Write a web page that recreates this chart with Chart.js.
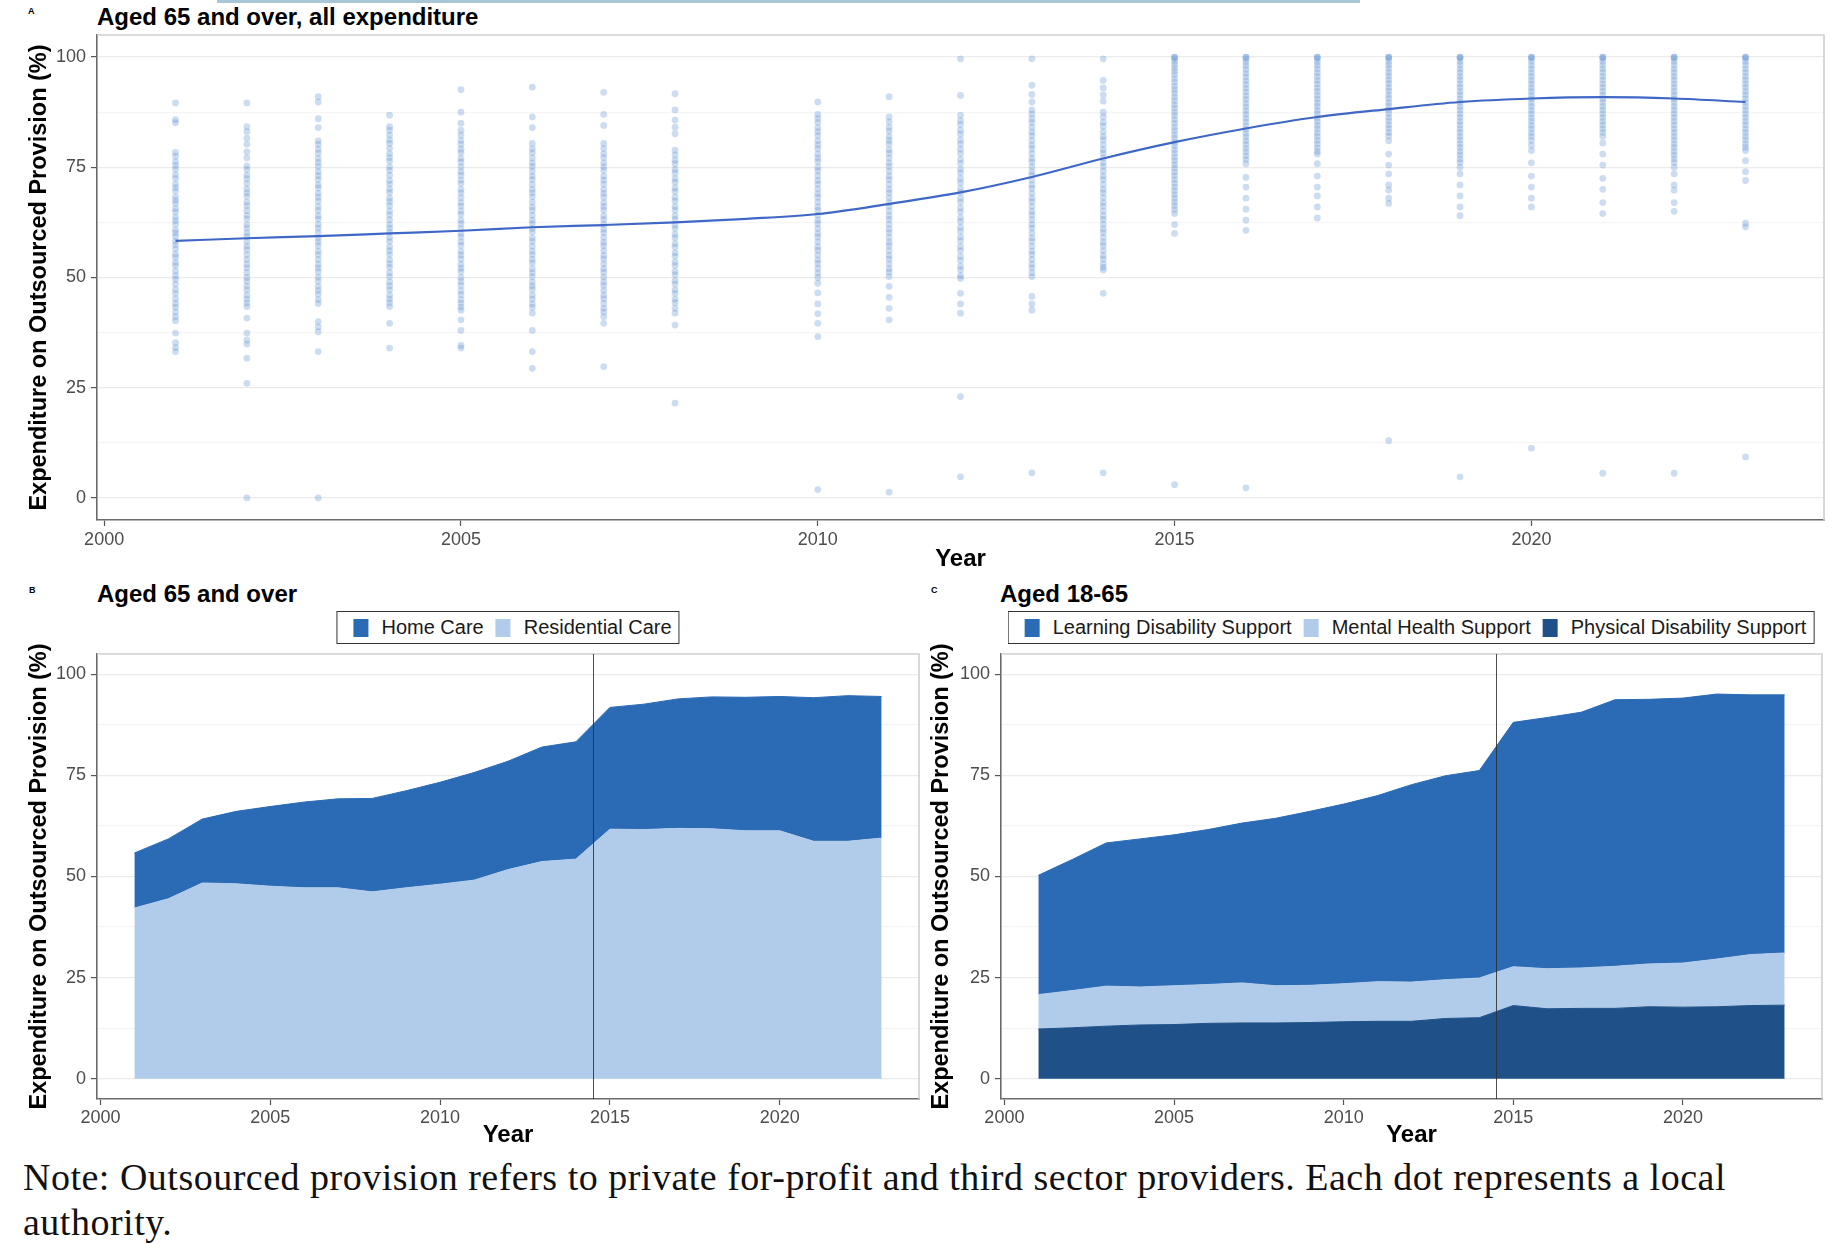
<!DOCTYPE html>
<html><head><meta charset="utf-8">
<script src="https://cdn.jsdelivr.net/npm/chart.js@4.4.1/dist/chart.umd.min.js"></script>
<style>
html,body{margin:0;padding:0;background:#fff;}
body{width:1838px;height:1244px;position:relative;overflow:hidden;font-family:"Liberation Sans",Arial,sans-serif;}
.abs{position:absolute;}
.tag{position:absolute;font-size:9px;font-weight:bold;color:#000;line-height:1;}
.ptitle{position:absolute;font-size:24px;font-weight:bold;color:#000;line-height:1;white-space:nowrap;}
.legend{position:absolute;z-index:2;top:611px;height:33px;box-sizing:border-box;border:1.5px solid #333;display:flex;align-items:center;padding:0 7px 0 16px;transform:translateX(-50%);white-space:nowrap;background:#fff;}
.item{display:flex;align-items:center;margin-right:12px;font-size:20px;color:#1a1a1a;}
.item:last-child{margin-right:0;}
.sw{width:15px;height:18px;margin-right:13px;}
.note{position:absolute;left:23px;top:1155px;font-family:"Liberation Serif","Times New Roman",serif;font-size:38px;letter-spacing:0.5px;line-height:45px;color:#111;white-space:nowrap;}
canvas{position:absolute;z-index:1;}
</style></head>
<body>
<div class="abs" style="left:217px;top:0;width:1143px;height:3px;background:#a8c6d5;"></div>

<div class="tag" style="left:28px;top:7px;">A</div>
<div class="ptitle" style="left:97px;top:5px;">Aged 65 and over, all expenditure</div>
<canvas id="chartA" width="1838" height="552" style="left:0;top:28px;"></canvas>

<div class="tag" style="left:29px;top:586px;">B</div>
<div class="ptitle" style="left:97px;top:582px;">Aged 65 and over</div>
<div class="legend" style="left:508px;">
  <div class="item"><div class="sw" style="background:#2b6bb5"></div>Home Care</div>
  <div class="item"><div class="sw" style="background:#b1cbea"></div>Residential Care</div>
</div>
<canvas id="chartB" width="930" height="530" style="left:0;top:620px;"></canvas>

<div class="tag" style="left:931px;top:586px;">C</div>
<div class="ptitle" style="left:1000px;top:582px;">Aged 18-65</div>
<div class="legend" style="left:1411px;">
  <div class="item"><div class="sw" style="background:#2b6bb5"></div>Learning Disability Support</div>
  <div class="item"><div class="sw" style="background:#b1cbea"></div>Mental Health Support</div>
  <div class="item"><div class="sw" style="background:#1f5188"></div>Physical Disability Support</div>
</div>
<canvas id="chartC" width="913" height="530" style="left:925px;top:620px;"></canvas>

<div class="note">Note: Outsourced provision refers to private for-profit and third sector providers. Each dot represents a local<br>authority.</div>

<script>
const FONT = '"Liberation Sans", Arial, sans-serif';

// ---- axes ----
const xTickYears = [2000, 2005, 2010, 2015, 2020];
const yMajorTicks = [0, 25, 50, 75, 100];
const yMinorTicks = [12.5, 37.5, 62.5, 87.5];
const xRange = [1999.9, 2024.1];
const yRange = [-5, 105];
const policyBreakYear = 2014.5;

// ---- panel A: smoothed trend ----
const trendYears = [2001, 2002, 2003, 2004, 2005, 2006, 2007, 2008, 2009, 2010, 2011, 2012, 2013, 2014, 2015, 2016, 2017, 2018, 2019, 2020, 2021, 2022, 2023];
const trendValues = [58.3, 58.9, 59.4, 60.0, 60.6, 61.4, 61.9, 62.5, 63.3, 64.4, 66.7, 69.3, 72.8, 77.0, 80.7, 83.8, 86.4, 88.2, 89.8, 90.6, 90.9, 90.6, 89.8];

// ---- panel A: local authority dots ----
const laYears = [2001, 2002, 2003, 2004, 2005, 2006, 2007, 2008, 2010, 2011, 2012, 2013, 2014, 2015, 2016, 2017, 2018, 2019, 2020, 2021, 2022, 2023];
const la2001 = [89.6, 85.8, 85.1, 78.4, 77.5, 76.3, 75.4, 74.6, 73.3, 72.5, 71.2, 70.4, 69.6, 68.3, 67.5, 66.8, 65.6, 64.9, 63.7, 62.9, 62.1, 60.8, 60.1, 59.3, 58.2, 57.4, 56.5, 55.3, 54.6, 53.4, 52.7, 51.5, 50.4, 49.6, 48.5, 47.3, 46.4, 45.2, 44.1, 43.3, 42.2, 41.1, 40.2, 37.4, 35.2, 34.1, 33.2];
const la2002 = [89.6, 84.2, 83.1, 81.6, 80.2, 78.5, 77.1, 75.3, 74.5, 73.2, 72.4, 71.3, 70.1, 69.2, 68.4, 67.1, 66.3, 65.2, 64.1, 63.3, 62.0, 61.2, 60.1, 59.3, 58.2, 57.1, 56.3, 55.2, 54.1, 53.0, 52.2, 51.1, 50.0, 49.2, 48.1, 47.2, 46.0, 45.1, 44.2, 43.4, 40.8, 37.4, 35.8, 34.9, 31.7, 26.0, 0.0];
const la2003 = [91.0, 89.8, 86.0, 84.0, 81.0, 80.2, 79.1, 78.2, 77.0, 76.1, 75.2, 74.0, 73.1, 72.2, 71.0, 70.3, 69.1, 68.2, 67.3, 66.1, 65.2, 64.0, 63.3, 62.1, 61.2, 60.2, 59.0, 58.1, 57.2, 56.0, 55.2, 54.1, 53.0, 52.2, 51.3, 50.1, 49.2, 48.0, 47.1, 46.2, 45.0, 44.1, 40.0, 38.8, 37.7, 33.2, 0.0];
const la2004 = [86.8, 84.2, 83.4, 82.3, 81.2, 80.4, 79.3, 78.1, 77.2, 76.4, 75.1, 74.3, 73.2, 72.0, 71.2, 70.1, 69.3, 68.0, 67.2, 66.3, 65.1, 64.2, 63.1, 62.0, 61.2, 60.3, 59.1, 58.2, 57.0, 56.1, 55.2, 54.0, 53.1, 52.3, 51.1, 50.2, 49.0, 48.1, 47.2, 46.0, 45.1, 44.3, 43.4, 39.6, 34.0];
const la2005 = [92.6, 87.5, 85.0, 83.4, 82.3, 81.1, 80.2, 79.1, 78.3, 77.0, 76.2, 75.1, 74.0, 73.2, 72.1, 71.3, 70.0, 69.2, 68.1, 67.0, 66.2, 65.1, 64.3, 63.0, 62.2, 61.1, 60.0, 59.2, 58.1, 57.3, 56.0, 55.1, 54.2, 53.0, 52.1, 51.3, 50.0, 49.1, 48.2, 47.0, 46.1, 45.0, 44.2, 43.3, 42.6, 40.4, 38.0, 34.6, 34.0];
const la2006 = [93.2, 86.4, 84.0, 80.4, 79.2, 78.3, 77.1, 76.0, 75.2, 74.1, 73.0, 72.2, 71.1, 70.0, 69.2, 68.3, 67.1, 66.0, 65.2, 64.1, 63.0, 62.2, 61.1, 60.3, 59.0, 58.2, 57.1, 56.0, 55.2, 54.1, 53.3, 52.0, 51.1, 50.2, 49.0, 48.1, 47.3, 46.0, 45.1, 44.0, 43.2, 41.9, 38.0, 33.2, 29.4];
const la2007 = [92.0, 87.0, 84.5, 80.4, 79.3, 78.1, 77.2, 76.0, 75.1, 74.3, 73.0, 72.1, 71.2, 70.0, 69.1, 68.2, 67.0, 66.1, 65.3, 64.0, 63.2, 62.1, 61.0, 60.2, 59.1, 58.0, 57.2, 56.1, 55.0, 54.2, 53.1, 52.0, 51.2, 50.1, 49.0, 48.2, 47.1, 46.0, 45.2, 44.1, 43.0, 42.2, 41.1, 39.6, 29.8];
const la2008 = [91.7, 88.0, 85.7, 84.1, 82.6, 78.9, 77.8, 76.6, 75.8, 74.5, 73.7, 72.4, 71.6, 70.3, 69.5, 68.2, 67.4, 66.1, 65.3, 64.0, 63.2, 61.9, 61.1, 59.8, 59.0, 57.7, 56.9, 55.6, 54.8, 53.5, 52.7, 51.4, 50.6, 49.3, 48.5, 47.2, 46.4, 45.1, 44.3, 43.0, 41.9, 39.2, 21.5];
const la2010 = [89.8, 87.0, 86.1, 85.2, 84.0, 83.1, 82.2, 81.0, 80.1, 79.2, 78.0, 77.1, 76.3, 75.0, 74.2, 73.1, 72.0, 71.2, 70.1, 69.0, 68.2, 67.1, 66.0, 65.2, 64.1, 63.0, 62.2, 61.1, 60.0, 59.2, 58.1, 57.0, 56.2, 55.1, 54.0, 53.2, 52.1, 51.0, 50.0, 48.7, 46.5, 44.0, 41.8, 39.6, 36.6, 1.9];
const la2011 = [91.0, 86.4, 85.3, 84.1, 83.2, 82.0, 81.1, 80.3, 79.0, 78.2, 77.1, 76.0, 75.2, 74.1, 73.0, 72.2, 71.1, 70.0, 69.2, 68.1, 67.0, 66.2, 65.1, 64.0, 63.2, 62.1, 61.0, 60.2, 59.1, 58.0, 57.2, 56.1, 55.0, 54.2, 53.1, 52.0, 51.2, 50.2, 48.0, 45.5, 43.0, 40.4, 1.3];
const la2012 = [99.6, 91.3, 86.8, 85.6, 84.7, 83.4, 82.5, 81.2, 80.3, 79.1, 78.1, 76.8, 75.9, 74.6, 73.7, 72.4, 71.5, 70.2, 69.3, 68.0, 67.1, 65.8, 64.9, 63.6, 62.7, 61.4, 60.5, 59.2, 58.3, 57.0, 56.1, 54.8, 53.9, 52.6, 51.7, 50.4, 49.8, 46.4, 44.0, 41.9, 23.0, 4.8];
const la2013 = [99.6, 93.6, 91.5, 89.8, 88.0, 87.1, 86.0, 85.2, 84.1, 83.0, 82.2, 81.1, 80.0, 79.2, 78.1, 77.0, 76.2, 75.1, 74.0, 73.2, 72.1, 71.0, 70.2, 69.1, 68.0, 67.2, 66.1, 65.0, 64.2, 63.1, 62.0, 61.2, 60.1, 59.0, 58.2, 57.1, 56.0, 55.2, 54.1, 53.0, 52.2, 51.1, 50.2, 45.7, 44.0, 42.6, 5.7];
const la2014 = [99.6, 94.7, 93.0, 91.4, 90.0, 87.5, 86.4, 85.2, 84.3, 83.1, 82.0, 81.2, 80.1, 79.0, 78.2, 77.1, 76.0, 75.2, 74.1, 73.0, 72.2, 71.1, 70.0, 69.2, 68.1, 67.0, 66.2, 65.1, 64.0, 63.2, 62.1, 61.0, 60.2, 59.1, 58.0, 57.2, 56.1, 55.0, 54.2, 53.1, 52.3, 51.7, 46.4, 5.7];
const la2015 = [100, 100, 99.6, 99.0, 98.3, 97.5, 96.8, 96.0, 95.1, 94.3, 93.4, 92.6, 91.8, 90.9, 90.1, 89.2, 88.4, 87.5, 86.7, 85.8, 85.0, 84.1, 83.3, 82.4, 81.6, 80.7, 79.9, 79.0, 78.2, 77.3, 76.5, 75.6, 74.8, 73.9, 73.1, 72.2, 71.4, 70.5, 69.7, 68.8, 68.0, 67.1, 66.3, 65.4, 64.5, 62.0, 60.0, 3.0];
const la2016 = [100, 100, 99.5, 98.8, 98.0, 97.2, 96.3, 95.5, 94.6, 93.8, 92.9, 92.1, 91.2, 90.4, 89.5, 88.7, 87.8, 87.0, 86.1, 85.3, 84.4, 83.6, 82.7, 81.9, 81.0, 80.2, 79.3, 78.5, 77.6, 76.8, 75.8, 72.7, 70.5, 68.0, 65.5, 63.0, 60.7, 2.3];
const la2017 = [100, 100, 99.6, 98.9, 98.1, 97.3, 96.4, 95.6, 94.7, 93.9, 93.0, 92.2, 91.3, 90.5, 89.6, 88.8, 87.9, 87.1, 86.2, 85.4, 84.5, 83.7, 82.8, 82.0, 81.1, 80.3, 79.4, 78.6, 78.0, 75.8, 73.0, 70.5, 68.5, 66.0, 63.5];
const la2018 = [100, 100, 99.7, 99.0, 98.2, 97.4, 96.5, 95.7, 94.8, 94.0, 93.1, 92.3, 91.4, 90.6, 89.7, 88.9, 88.0, 87.2, 86.3, 85.5, 84.6, 83.8, 82.9, 82.1, 81.0, 78.0, 75.5, 73.5, 71.0, 69.8, 68.0, 66.8, 13.0];
const la2019 = [100, 100, 99.7, 99.0, 98.2, 97.3, 96.5, 95.6, 94.8, 93.9, 93.1, 92.2, 91.4, 90.5, 89.7, 88.8, 88.0, 87.1, 86.3, 85.4, 84.6, 83.7, 82.9, 82.0, 81.2, 80.3, 79.5, 78.6, 77.8, 76.9, 76.1, 75.0, 73.5, 71.0, 68.5, 66.0, 64.0, 4.8];
const la2020 = [100, 100, 99.7, 99.0, 98.1, 97.3, 96.4, 95.6, 94.7, 93.9, 93.0, 92.2, 91.3, 90.5, 89.6, 88.8, 87.9, 87.1, 86.2, 85.4, 84.5, 83.7, 82.8, 82.0, 81.1, 80.0, 78.8, 76.0, 73.0, 70.5, 68.0, 66.0, 11.3];
const la2021 = [100, 100, 99.7, 99.0, 98.2, 97.3, 96.5, 95.6, 94.8, 93.9, 93.1, 92.2, 91.4, 90.5, 89.7, 88.8, 88.0, 87.1, 86.3, 85.4, 84.6, 83.7, 82.9, 82.0, 80.5, 78.0, 75.5, 72.5, 70.0, 67.0, 64.5, 5.6];
const la2022 = [100, 100, 99.7, 99.0, 98.2, 97.3, 96.5, 95.6, 94.8, 93.9, 93.1, 92.2, 91.4, 90.5, 89.7, 88.8, 88.0, 87.1, 86.3, 85.4, 84.6, 83.7, 82.9, 82.0, 81.2, 80.3, 79.5, 78.6, 77.8, 76.9, 76.1, 75.0, 73.5, 71.0, 69.8, 67.0, 65.0, 5.6];
const la2023 = [100, 100, 99.7, 99.0, 98.2, 97.3, 96.5, 95.6, 94.8, 93.9, 93.1, 92.2, 91.4, 90.5, 89.7, 88.8, 88.0, 87.1, 86.3, 85.4, 84.6, 83.7, 82.9, 82.0, 81.2, 80.3, 79.5, 78.8, 76.5, 74.0, 72.0, 62.3, 61.5, 9.3];
const laValues = [la2001, la2002, la2003, la2004, la2005, la2006, la2007, la2008, la2010, la2011, la2012, la2013, la2014, la2015, la2016, la2017, la2018, la2019, la2020, la2021, la2022, la2023];

// ---- panels B & C: stacked shares ----
const areaYears = [2001, 2002, 2003, 2004, 2005, 2006, 2007, 2008, 2009, 2010, 2011, 2012, 2013, 2014, 2015, 2016, 2017, 2018, 2019, 2020, 2021, 2022, 2023];
const residentialCare = [42.2, 44.5, 48.4, 48.2, 47.6, 47.2, 47.2, 46.2, 47.2, 48.1, 49.1, 51.7, 53.7, 54.3, 61.7, 61.6, 61.9, 61.8, 61.3, 61.3, 58.7, 58.7, 59.5];
const homeCare = [13.6, 14.8, 15.8, 17.9, 19.7, 21.2, 22.0, 23.1, 24.0, 25.2, 26.6, 26.8, 28.3, 29.0, 30.1, 31.0, 32.0, 32.6, 33.0, 33.2, 35.5, 36.0, 35.0];
const physicalDisability = [12.3, 12.6, 13.0, 13.3, 13.4, 13.7, 13.8, 13.8, 13.9, 14.1, 14.2, 14.2, 14.9, 15.1, 18.1, 17.3, 17.4, 17.4, 17.8, 17.7, 17.8, 18.1, 18.2];
const mentalHealth = [8.5, 9.2, 9.9, 9.4, 9.6, 9.6, 9.9, 9.2, 9.2, 9.4, 9.8, 9.7, 9.6, 9.8, 9.6, 9.9, 10.0, 10.4, 10.6, 10.9, 11.8, 12.6, 12.9];
const learningDisability = [29.5, 32.4, 35.4, 36.6, 37.3, 38.3, 39.5, 41.4, 43.0, 44.4, 46.0, 48.8, 50.4, 51.3, 60.4, 62.1, 63.2, 65.9, 65.4, 65.5, 65.5, 64.2, 63.8];

const C_DARK = '#2b6bb5', C_LIGHT = '#b1cbea', C_NAVY = '#1f5188', C_TREND = '#3f67c6';

const pts = (xs, ys) => xs.map((x, i) => ({x: x, y: ys[i]}));
const allYTicks = [...yMajorTicks, ...yMinorTicks].sort((a, b) => a - b);
const isMajor = c => c.tick && yMajorTicks.includes(c.tick.value);

function makeScales(o) {
  return {
    x: {
      type: 'linear', min: xRange[0], max: xRange[1],
      afterBuildTicks: s => { s.ticks = xTickYears.map(v => ({value: v})); },
      afterFit: s => { s.height = o.xHeight; s.paddingLeft = 0; s.paddingRight = 0; s.paddingTop = 0; s.paddingBottom = 0; },
      ticks: {color: '#4d4d4d', font: {family: FONT, size: 18}, padding: o.xPad, maxRotation: 0, autoSkip: false, callback: v => String(v)},
      grid: {drawOnChartArea: false, drawTicks: true, tickLength: 6, tickColor: '#555', tickWidth: 1.2},
      border: {display: true, color: '#6b6b6b', width: 1.6},
      title: {display: true, text: 'Year', color: '#000', font: {family: FONT, size: 24, weight: 'bold'}, padding: {top: 0, bottom: o.xTitlePad}}
    },
    y: {
      type: 'linear', min: yRange[0], max: yRange[1], stacked: o.stacked,
      afterBuildTicks: s => { s.ticks = allYTicks.map(v => ({value: v})); },
      afterFit: s => { s.width = o.yWidth; s.paddingTop = 0; s.paddingBottom = 0; s.paddingLeft = 0; s.paddingRight = 0; },
      ticks: {color: '#4d4d4d', font: {family: FONT, size: 18}, padding: 5, autoSkip: false, callback: v => yMajorTicks.includes(v) ? String(v) : ''},
      grid: {drawOnChartArea: true, drawTicks: true, tickLength: 6,
             color: c => isMajor(c) ? '#ebebeb' : '#f5f5f5', lineWidth: 1.2,
             tickColor: c => isMajor(c) ? '#555' : 'rgba(0,0,0,0)', tickWidth: 1.2},
      border: {display: true, color: '#6b6b6b', width: 1.6},
      title: {display: true, text: 'Expenditure on Outsourced Provision (%)', color: '#000', font: {family: FONT, size: 23.5, weight: 'bold'}, padding: {top: o.yTitlePad, bottom: 0}}
    }
  };
}

const panelBorder = {
  id: 'panelBorder',
  afterDatasetsDraw(chart) {
    const {ctx, chartArea: a} = chart;
    ctx.save();
    ctx.strokeStyle = '#cfcfcf'; ctx.lineWidth = 1.6;
    ctx.beginPath(); ctx.moveTo(a.left, a.top); ctx.lineTo(a.right, a.top); ctx.lineTo(a.right, a.bottom); ctx.stroke();
    ctx.restore();
  }
};
const breakLine = {
  id: 'breakLine',
  afterDatasetsDraw(chart) {
    const {ctx, chartArea: a} = chart;
    const x = Math.round(chart.scales.x.getPixelForValue(policyBreakYear)) + 0.5;
    ctx.save();
    ctx.strokeStyle = 'rgba(45,45,45,0.85)'; ctx.lineWidth = 1;
    ctx.beginPath(); ctx.moveTo(x, a.top); ctx.lineTo(x, a.bottom); ctx.stroke();
    ctx.restore();
  }
};

const common = {responsive: false, animation: false, devicePixelRatio: 1,
  plugins: {legend: {display: false}, tooltip: {enabled: false}}};

// Panel A
new Chart(document.getElementById('chartA'), {
  type: 'scatter',
  data: {datasets: [
    {label: 'Trend', data: pts(trendYears, trendValues), showLine: true, borderColor: C_TREND, borderWidth: 2.2,
     pointRadius: 0, cubicInterpolationMode: 'monotone', order: 0},
    {label: 'Local authority', data: laYears.flatMap((yr, i) => laValues[i].map(v => ({x: yr, y: v}))),
     pointRadius: 3.4, pointBackgroundColor: 'rgba(105,152,214,0.34)', backgroundColor: 'rgba(105,152,214,0.34)', borderWidth: 0, pointBorderWidth: 0, order: 1}
  ]},
  options: Object.assign({}, common, {
    layout: {autoPadding: false, padding: {top: 7, right: 14, left: 0, bottom: 0}},
    scales: makeScales({xHeight: 60, xPad: 3, xTitlePad: 6, yWidth: 97, yTitlePad: 25, stacked: false})
  }),
  plugins: [panelBorder]
});

function areaDs(label, values, color, fill) {
  return {label: label, data: pts(areaYears, values), backgroundColor: color, borderColor: color, borderWidth: 1,
          pointRadius: 0, tension: 0, fill: fill};
}

// Panel B
new Chart(document.getElementById('chartB'), {
  type: 'line',
  data: {datasets: [
    areaDs('Residential Care', residentialCare, C_LIGHT, 'origin'),
    areaDs('Home Care', homeCare, C_DARK, '-1')
  ]},
  options: Object.assign({}, common, {
    layout: {autoPadding: false, padding: {top: 34, right: 11, left: 0, bottom: 0}},
    scales: makeScales({xHeight: 51, xPad: 2, xTitlePad: 0, yWidth: 97, yTitlePad: 25, stacked: true})
  }),
  plugins: [panelBorder, breakLine]
});

// Panel C
new Chart(document.getElementById('chartC'), {
  type: 'line',
  data: {datasets: [
    areaDs('Physical Disability Support', physicalDisability, C_NAVY, 'origin'),
    areaDs('Mental Health Support', mentalHealth, C_LIGHT, '-1'),
    areaDs('Learning Disability Support', learningDisability, C_DARK, '-1')
  ]},
  options: Object.assign({}, common, {
    layout: {autoPadding: false, padding: {top: 34, right: 16, left: 0, bottom: 0}},
    scales: makeScales({xHeight: 51, xPad: 2, xTitlePad: 0, yWidth: 76, yTitlePad: 2, stacked: true})
  }),
  plugins: [panelBorder, breakLine]
});
</script>
</body></html>
